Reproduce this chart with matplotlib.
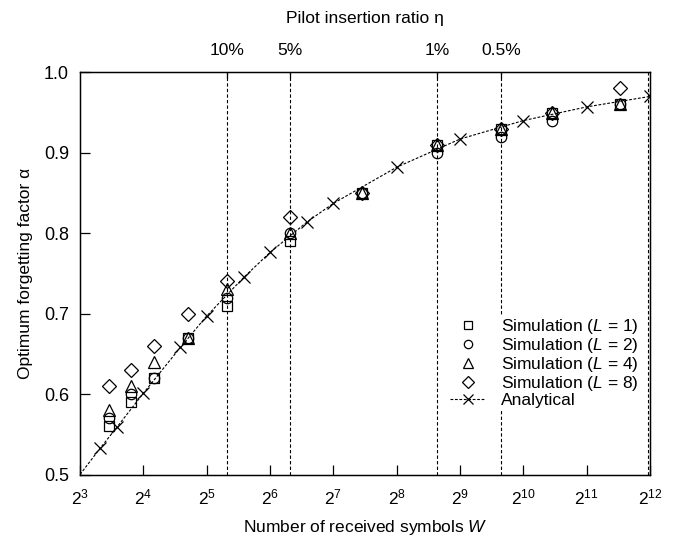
import numpy as np
import matplotlib
matplotlib.use("Agg")
import matplotlib.pyplot as plt
from matplotlib.lines import Line2D

plt.rcParams['font.family'] = ['Liberation Sans', 'DejaVu Sans']
plt.rcParams['mathtext.fontset'] = 'custom'
plt.rcParams['mathtext.rm'] = 'Liberation Sans'
plt.rcParams['mathtext.it'] = 'Liberation Sans:italic'

# Simulated optimum forgetting factor for several L
W_sim = [11, 14, 18, 26, 40, 80, 176, 400, 800, 1400, 2960]
alpha_L1 = [0.56, 0.59, 0.62, 0.67, 0.71, 0.79, 0.85, 0.91, 0.93, 0.95, 0.96]
alpha_L2 = [0.57, 0.60, 0.62, 0.67, 0.72, 0.80, 0.85, 0.90, 0.92, 0.94, 0.96]
alpha_L4 = [0.58, 0.61, 0.64, 0.67, 0.73, 0.80, 0.85, 0.91, 0.93, 0.95, 0.96]
alpha_L8 = [0.61, 0.63, 0.66, 0.70, 0.74, 0.82, 0.85, 0.91, 0.93, 0.95, 0.98]

# Analytical curve
W_ana = [8, 10, 12, 16, 24, 32, 48, 64, 96, 128, 256, 512, 1024, 2048, 4096]
alpha_ana = [0.50, 0.533, 0.559, 0.601, 0.658, 0.697, 0.745, 0.776, 0.814,
             0.837, 0.882, 0.917, 0.940, 0.957, 0.970]

# Pilot insertion ratios (W = 4 / eta)
eta = [0.10, 0.05, 0.01, 0.005, 0.001]
eta_labels = ['10%', '5%', '1%', '0.5%']
W_eta = [4 / e for e in eta]

x_exp = list(range(3, 13))

fig = plt.figure(figsize=(6.77, 5.37), dpi=100)
ax = fig.add_axes([80 / 677, 1 - 474.5 / 537, 570 / 677, 402.2 / 537])

for w in W_eta:
    ax.axvline(w, color='black', lw=0.8, ls=(0, (3, 2)), zorder=1)

ax.plot(W_ana, alpha_ana, color='black', lw=0.8, ls=(0, (2.5, 1.5)),
        marker='x', ms=9, mew=0.9, markevery=list(range(1, len(W_ana))),
        zorder=2)

mk = dict(ls='none', color='black', fillstyle='none', mew=0.9, zorder=3)
ax.plot(W_sim, alpha_L1, marker='s', ms=7, **mk)
ax.plot(W_sim, alpha_L2, marker='o', ms=7.5, **mk)
ax.plot(W_sim, alpha_L4, marker='^', ms=8.5, **mk)
ax.plot(W_sim, alpha_L8, marker='D', ms=7, **mk)

ax.set_xscale('log', base=2)
ax.set_xlim(2 ** 3, 2 ** 12)
ax.set_ylim(0.5, 1.0)
ax.set_xticks([2 ** e for e in x_exp])
ax.set_xticklabels([r'$2^{%d}$' % e for e in x_exp])
ax.xaxis.set_minor_locator(matplotlib.ticker.NullLocator())
ax.set_yticks(np.arange(0.5, 1.01, 0.1))
ax.set_yticklabels(['%.1f' % v for v in np.arange(0.5, 1.01, 0.1)])
ax.tick_params(axis='both', direction='in', length=7, width=0.9,
               top=False, right=False)
ax.tick_params(axis='x', pad=9, labelsize=12.5)
ax.tick_params(axis='y', pad=8, labelsize=13)
for s in ax.spines.values():
    s.set_linewidth(1.0)

ax.set_xlabel('Number of received symbols $\\it{W}$', fontsize=12.5, labelpad=8)
ax.set_ylabel('Optimum forgetting factor α', fontsize=12.5, labelpad=8)

# Top axis for the pilot insertion ratio
top = ax.twiny()
top.set_xscale('log', base=2)
top.set_xlim(ax.get_xlim())
top.set_xticks(W_eta[:len(eta_labels)])
top.set_xticklabels(eta_labels)
top.xaxis.set_minor_locator(matplotlib.ticker.NullLocator())
top.tick_params(axis='x', direction='in', length=4, width=0.9,
                labelsize=12.5, pad=10)
top.set_xlabel('Pilot insertion ratio η', fontsize=12.5, labelpad=15)

handles = [
    Line2D([], [], marker='s', ms=6, **mk),
    Line2D([], [], marker='o', ms=6, **mk),
    Line2D([], [], marker='^', ms=7, **mk),
    Line2D([], [], marker='D', ms=6, **mk),
    Line2D([], [], color='black', lw=0.8, ls=(0, (2.5, 1.5)), marker='x',
           ms=7, mew=0.9),
]
labels = ['Simulation ($\\it{L}$ = 1)', 'Simulation ($\\it{L}$ = 2)',
          'Simulation ($\\it{L}$ = 4)', 'Simulation ($\\it{L}$ = 8)',
          'Analytical']
leg = ax.legend(handles, labels, loc='lower right',
                bbox_to_anchor=(0.998, 0.14), fontsize=12.5, frameon=True,
                fancybox=False, edgecolor='none', facecolor='white',
                framealpha=1, handlelength=2.0, handletextpad=0.9,
                labelspacing=0.0, borderpad=0.1)
leg.set_zorder(5)

fig.savefig('out.png', dpi=100)
